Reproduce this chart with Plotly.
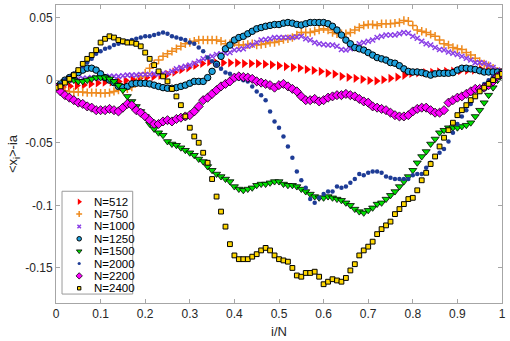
import plotly.graph_objects as go

# ---------------- data ----------------
x_100 = [i / 100 for i in range(101)]
x_64 = [i / 64 for i in range(65)]

n512 = [-0.006, -0.0055, -0.0048, -0.0043, -0.0038, -0.003, -0.0022, -0.0016, -0.0015, -0.001,
        -0.0002, 0.0005, 0.0013, 0.0021, 0.0028, 0.0037, 0.0046, 0.0063, 0.0083, 0.0098,
        0.0117, 0.0133, 0.0145, 0.0138, 0.0138, 0.0138, 0.0138, 0.0132, 0.0132, 0.0132,
        0.0127, 0.0122, 0.0115, 0.0108, 0.0102, 0.0096, 0.0085, 0.0077, 0.0069, 0.0056,
        0.0048, 0.003, 0.0022, 0.0014, 0.0006, -0.0003, -0.0006, 0.0003, 0.0014, 0.0024,
        0.0038, 0.0053, 0.0058, 0.006, 0.0062, 0.0065, 0.007, 0.0072, 0.0075, 0.0078,
        0.008, 0.0085, 0.0075, 0.0065, 0.006]

n750 = [-0.006, -0.008, -0.0085, -0.009, -0.0095, -0.0095, -0.0095, -0.010, -0.010, -0.010,
        -0.0105, -0.0105, -0.010, -0.009, -0.008, -0.008, -0.007, -0.0055, -0.0015, 0.0025,
        0.0055, 0.0095, 0.013, 0.016, 0.019, 0.021, 0.023, 0.025, 0.027, 0.029,
        0.030, 0.031, 0.032, 0.032, 0.032, 0.032, 0.032, 0.031, 0.029, 0.029,
        0.030, 0.028, 0.028, 0.0285, 0.029, 0.028, 0.0285, 0.029, 0.030, 0.030,
        0.031, 0.0325, 0.033, 0.034, 0.036, 0.038, 0.038, 0.038, 0.039, 0.040,
        0.041, 0.040, 0.038, 0.037, 0.037, 0.037, 0.038, 0.040, 0.042, 0.0437,
        0.0444, 0.0444, 0.0437, 0.045, 0.045, 0.045, 0.0455, 0.046, 0.0476, 0.047,
        0.0437, 0.040, 0.039, 0.038, 0.0365, 0.035, 0.032, 0.029, 0.028, 0.026,
        0.025, 0.0245, 0.022, 0.020, 0.0175, 0.015, 0.013, 0.0115, 0.0095, 0.007,
        0.005]

n1000 = [-0.006, -0.004, -0.002, 0.000, 0.001, 0.001, 0.0015, 0.0015, 0.002, 0.002,
         0.002, 0.0025, 0.003, 0.003, 0.003, 0.0035, 0.004, 0.004, 0.004, 0.0045,
         0.0045, 0.0045, 0.005, 0.005, 0.0055, 0.0055, 0.007, 0.009, 0.010, 0.011,
         0.012, 0.0135, 0.015, 0.017, 0.018, 0.019, 0.0205, 0.021, 0.0215, 0.022,
         0.024, 0.0245, 0.025, 0.027, 0.028, 0.030, 0.032, 0.0325, 0.033, 0.034,
         0.034, 0.034, 0.034, 0.034, 0.0345, 0.035, 0.033, 0.032, 0.030, 0.029,
         0.0285, 0.028, 0.028, 0.027, 0.0245, 0.024, 0.025, 0.027, 0.029, 0.030,
         0.031, 0.032, 0.034, 0.035, 0.036, 0.036, 0.036, 0.037, 0.038, 0.0375,
         0.035, 0.0335, 0.031, 0.029, 0.028, 0.026, 0.0245, 0.024, 0.0225, 0.0215,
         0.0205, 0.019, 0.0175, 0.016, 0.014, 0.014, 0.0135, 0.012, 0.010, 0.008,
         0.006]

n1250 = [-0.006, -0.003, 0.000, 0.002, 0.004, 0.006, 0.008, 0.0095, 0.0095, 0.008,
         0.005, 0.002, 0.000, -0.002, -0.005, -0.006, -0.005, -0.003, -0.0025, -0.0025,
         -0.0025, -0.003, -0.004, -0.005, -0.006, -0.0065, -0.0065, -0.006, -0.005, -0.004,
         -0.0025, -0.001, -0.001, -0.001, 0.002, 0.007, 0.0127, 0.019, 0.025, 0.028,
         0.032, 0.034, 0.035, 0.037, 0.039, 0.041, 0.042, 0.043, 0.0437, 0.0444,
         0.0444, 0.0455, 0.046, 0.0455, 0.0445, 0.044, 0.045, 0.046, 0.046, 0.046,
         0.046, 0.045, 0.043, 0.040, 0.036, 0.032, 0.029, 0.026, 0.025, 0.024,
         0.022, 0.020, 0.018, 0.017, 0.016, 0.014, 0.0135, 0.0115, 0.009, 0.007,
         0.0065, 0.0065, 0.006, 0.005, 0.004, 0.005, 0.0055, 0.0055, 0.0055, 0.006,
         0.008, 0.0095, 0.0095, 0.009, 0.0085, 0.0075, 0.0065, 0.0065, 0.0065, 0.0065,
         0.0065]

n1500 = [-0.006, -0.004, -0.001, 0.000, 0.000, -0.001, -0.001, 0.000, 0.001, 0.002,
         0.002, 0.002, 0.001, -0.001, -0.004, -0.008, -0.013, -0.017, -0.021, -0.025,
         -0.029, -0.035, -0.039, -0.042, -0.044, -0.049, -0.051, -0.052, -0.054, -0.056,
         -0.058, -0.060, -0.063, -0.065, -0.069, -0.072, -0.075, -0.077, -0.079, -0.081,
         -0.085, -0.087, -0.088, -0.087, -0.086, -0.084, -0.083, -0.083, -0.082, -0.081,
         -0.081, -0.083, -0.084, -0.084, -0.085, -0.087, -0.089, -0.091, -0.093, -0.094,
         -0.094, -0.093, -0.094, -0.095, -0.096, -0.098, -0.100, -0.103, -0.105, -0.106,
         -0.104, -0.102, -0.099, -0.098, -0.095, -0.092, -0.089, -0.085, -0.081, -0.077,
         -0.072, -0.066, -0.061, -0.057, -0.051, -0.047, -0.042, -0.040, -0.038, -0.038,
         -0.038, -0.037, -0.036, -0.034, -0.029, -0.024, -0.018, -0.012, -0.006, 0.000,
         0.004]

n2000 = [-0.006, -0.003, 0.000, 0.002, 0.005, 0.008, 0.011, 0.014, 0.017, 0.021,
         0.023, 0.025, 0.026, 0.028, 0.029, 0.030, 0.031, 0.032, 0.033, 0.034,
         0.035, 0.035, 0.036, 0.037, 0.038, 0.037, 0.035, 0.034, 0.033, 0.032,
         0.030, 0.029, 0.026, 0.023, 0.018, 0.015, 0.012, 0.009, 0.006, 0.005,
         0.003, 0.001, 0.000, -0.001, -0.005, -0.009, -0.012, -0.016, -0.025, -0.033,
         -0.038, -0.045, -0.053, -0.062, -0.073, -0.080, -0.086, -0.095, -0.098, -0.094,
         -0.091, -0.089, -0.089, -0.085, -0.086, -0.085, -0.082, -0.079, -0.075, -0.076,
         -0.074, -0.073, -0.073, -0.074, -0.077, -0.078, -0.079, -0.079, -0.079, -0.079,
         -0.076, -0.075, -0.075, -0.070, -0.066, -0.061, -0.058, -0.055, -0.049, -0.042,
         -0.035, -0.029, -0.024, -0.019, -0.013, -0.007, -0.003, 0.000, 0.003, 0.004,
         0.005]

n2200 = [-0.006, -0.009, -0.012, -0.014, -0.016, -0.018, -0.019, -0.021, -0.022, -0.024,
         -0.024, -0.024, -0.023, -0.024, -0.025, -0.022, -0.019, -0.020, -0.024, -0.026,
         -0.029, -0.032, -0.035, -0.035, -0.033, -0.032, -0.033, -0.031, -0.030, -0.029,
         -0.028, -0.025, -0.021, -0.016, -0.014, -0.011, -0.008, -0.005, -0.003, -0.001,
         0.002, 0.003, 0.0025, 0.002, 0.001, -0.001, -0.002, -0.003, -0.004, -0.006,
         -0.004, -0.003, -0.005, -0.007, -0.009, -0.013, -0.016, -0.016, -0.015, -0.017,
         -0.016, -0.014, -0.013, -0.012, -0.012, -0.011, -0.012, -0.013, -0.015, -0.017,
         -0.018, -0.021, -0.022, -0.023, -0.024, -0.026, -0.028, -0.029, -0.029, -0.028,
         -0.025, -0.023, -0.022, -0.022, -0.024, -0.026, -0.026, -0.024, -0.018, -0.016,
         -0.014, -0.013, -0.011, -0.009, -0.007, -0.007, -0.006, -0.004, -0.001, 0.003,
         0.005]

n2400 = [-0.006, -0.005, -0.002, 0.001, 0.004, 0.008, 0.013, 0.017, 0.020, 0.024,
         0.030, 0.033, 0.035, 0.034, 0.032, 0.031, 0.030, 0.030, 0.029, 0.027,
         0.022, 0.017, 0.012, 0.007, 0.003, -0.001, -0.007, -0.013, -0.020, -0.029,
         -0.038, -0.045, -0.050, -0.058, -0.066, -0.079, -0.093, -0.105, -0.117, -0.131,
         -0.140, -0.143, -0.143, -0.143, -0.141, -0.139, -0.136, -0.134, -0.136, -0.140,
         -0.143, -0.144, -0.145, -0.150, -0.156, -0.157, -0.154, -0.154, -0.153, -0.157,
         -0.163, -0.161, -0.159, -0.160, -0.161, -0.158, -0.152, -0.147, -0.140, -0.136,
         -0.133, -0.129, -0.123, -0.119, -0.116, -0.113, -0.107, -0.103, -0.099, -0.095,
         -0.094, -0.088, -0.080, -0.074, -0.067, -0.061, -0.053, -0.046, -0.040, -0.034,
         -0.028, -0.024, -0.020, -0.016, -0.013, -0.009, -0.006, -0.003, 0.000, 0.003,
         0.005]

labels = ["N=512", "N=750", "N=1000", "N=1250", "N=1500", "N=2000", "N=2200", "N=2400"]
x_ticks = [0, 0.1, 0.2, 0.3, 0.4, 0.5, 0.6, 0.7, 0.8, 0.9, 1]
x_tick_text = ["0", "0.1", "0.2", "0.3", "0.4", "0.5", "0.6", "0.7", "0.8", "0.9", "1"]
y_ticks = [-0.15, -0.1, -0.05, 0, 0.05]
y_tick_text = ["-0.15", "-0.1", "-0.05", "0", "0.05"]

# ---------------- styles ----------------
series = [
    (x_64, n512, dict(symbol="triangle-right", size=8, color="#ff0000", line=dict(width=0))),
    (x_100, n750, dict(symbol="cross-thin", size=6, color="#ee8a1e", line=dict(width=1.5, color="#ee8a1e"))),
    (x_100, n1000, dict(symbol="x-thin", size=5, color="#8a3ee6", line=dict(width=1.5, color="#8a3ee6"))),
    (x_100, n1250, dict(symbol="circle", size=6.5, color="#1ea0dc", line=dict(width=1, color="#000000"))),
    (x_100, n1500, dict(symbol="triangle-down", size=7, color="#00e000", line=dict(width=0.8, color="#000000"))),
    (x_100, n2000, dict(symbol="circle", size=4.5, color="#1e3c96", line=dict(width=0))),
    (x_100, n2200, dict(symbol="diamond", size=7, color="#ff00ff", line=dict(width=0.8, color="#000000"))),
    (x_100, n2400, dict(symbol="square", size=4.8, color="#ffd700", line=dict(width=1, color="#000000"))),
]
legend_marker_scale = 0.7

fig = go.Figure()
for (xs, ys, mk), name in zip(series, labels):
    fig.add_trace(go.Scatter(x=xs, y=ys, mode="markers", name=name, marker=mk,
                             showlegend=False, cliponaxis=True))

# ---------------- hand-made legend on an overlay axis ----------------
leg_x0, leg_x1 = 0.0135, 0.172
leg_top, leg_bot = 0.375, 0.030
row0, row_step = 0.340, 0.0415
mx, tx = 0.052, 0.08
for k, ((xs, ys, mk), name) in enumerate(zip(series, labels)):
    yk = row0 - k * row_step
    lm = dict(mk)
    lm["size"] = mk["size"] * legend_marker_scale
    fig.add_trace(go.Scatter(x=[mx], y=[yk], mode="markers", marker=lm, showlegend=False,
                             xaxis="x2", yaxis="y2", hoverinfo="skip"))
    fig.add_annotation(x=tx, y=yk, xref="x2", yref="y2", text=name, showarrow=False,
                       xanchor="left", yanchor="middle",
                       font=dict(family="Liberation Sans, Arial, sans-serif", size=11.5, color="#000000"))
fig.add_shape(type="rect", xref="x2", yref="y2", x0=leg_x0, x1=leg_x1, y0=leg_bot, y1=leg_top,
              line=dict(color="#9a9a9a", width=1), fillcolor="white", layer="below")

axis_color = "#a6a6a6"
font_fam = "Liberation Sans, Arial, sans-serif"
fig.update_layout(
    width=510, height=341,
    margin=dict(l=56, r=6, t=4, b=36),
    paper_bgcolor="white", plot_bgcolor="white",
    font=dict(family=font_fam, size=12, color="#262626"),
    showlegend=False,
    xaxis=dict(range=[0, 1], tickvals=x_ticks, ticktext=x_tick_text,
               showline=True, linecolor=axis_color, linewidth=1, mirror="ticks",
               ticks="inside", ticklen=4, tickcolor=axis_color, showgrid=False, zeroline=False,
               title=dict(text="i/N", font=dict(size=13), standoff=6)),
    yaxis=dict(range=[-0.178, 0.06], tickvals=y_ticks, ticktext=y_tick_text,
               showline=True, linecolor=axis_color, linewidth=1, mirror="ticks",
               ticks="inside", ticklen=4, tickcolor=axis_color, showgrid=False, zeroline=False,
               title=dict(text="&lt;x<sub>i</sub>&gt;-ia", font=dict(size=13), standoff=4)),
    xaxis2=dict(range=[0, 1], overlaying="x", anchor="y2", visible=False, fixedrange=True),
    yaxis2=dict(range=[0, 1], overlaying="y", anchor="x2", visible=False, fixedrange=True),
)

fig.write_html("out.html", config={"displayModeBar": False},
               post_script="document.body.style.margin='0';document.body.style.padding='0';")
